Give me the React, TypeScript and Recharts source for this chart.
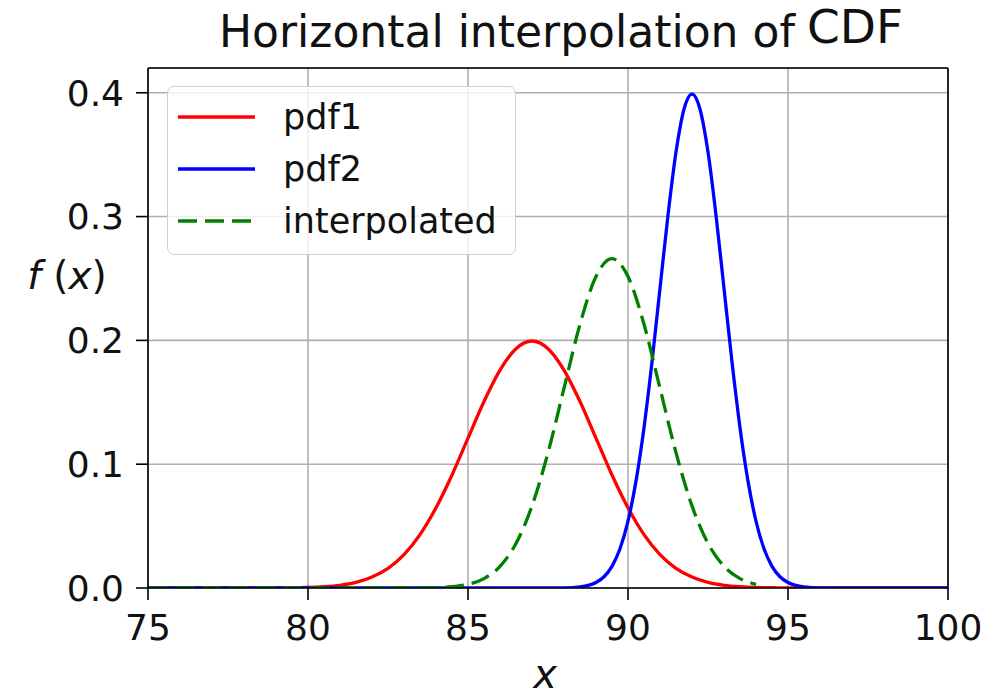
import React from "react";
import {
  ComposedChart,
  Line,
  XAxis,
  YAxis,
  CartesianGrid,
  ReferenceLine,
  Legend,
} from "recharts";

// values
const pdf1X = [75, 78, 79, 79.5, 80, 80.5, 81, 81.5, 82, 82.5, 83, 83.5, 84, 84.5, 85, 85.5, 86, 86.5, 87, 87.5, 88, 88.5, 89, 89.5, 90, 90.5, 91, 91.5, 92, 92.5, 93, 93.5, 94, 94.5, 95, 96, 100];
const pdf1Y = [0, 0, 0.0001, 0.0002, 0.0004, 0.001, 0.0022, 0.0045, 0.0088, 0.0159, 0.027, 0.0431, 0.0648, 0.0913, 0.121, 0.1506, 0.176, 0.1933, 0.1995, 0.1933, 0.176, 0.1506, 0.121, 0.0913, 0.0648, 0.0431, 0.027, 0.0159, 0.0088, 0.0045, 0.0022, 0.001, 0.0004, 0.0002, 0.0001, 0, 0];

const pdf2X = [75, 87, 88, 88.5, 89, 89.25, 89.5, 89.75, 90, 90.25, 90.5, 90.75, 91, 91.25, 91.5, 91.75, 92, 92.25, 92.5, 92.75, 93, 93.25, 93.5, 93.75, 94, 94.25, 94.5, 94.75, 95, 95.5, 96, 97, 100];
const pdf2Y = [0, 0, 0.0001, 0.0009, 0.0044, 0.0091, 0.0175, 0.0317, 0.054, 0.0863, 0.1295, 0.1826, 0.242, 0.3011, 0.3521, 0.3867, 0.3989, 0.3867, 0.3521, 0.3011, 0.242, 0.1826, 0.1295, 0.0863, 0.054, 0.0317, 0.0175, 0.0091, 0.0044, 0.0009, 0.0001, 0, 0];

const interpX = [75, 82, 83, 83.5, 84, 84.5, 85, 85.5, 86, 86.5, 87, 87.5, 88, 88.5, 89, 89.5, 90, 90.5, 91, 91.5, 92, 92.5, 93, 93.5, 94];
const interpY = [0, 0, 0, 0.0001, 0.0003, 0.001, 0.003, 0.0076, 0.0175, 0.036, 0.0663, 0.1093, 0.1613, 0.213, 0.2516, 0.266, 0.2516, 0.213, 0.1613, 0.1093, 0.0663, 0.036, 0.0175, 0.0076, 0.003];

const xTicks = [75, 80, 85, 90, 95, 100];
const yTicks = [0, 0.1, 0.2, 0.3, 0.4];
const xDomain = [75, 100];
const yDomain = [0, 0.42];

const seriesNames = ["pdf1", "pdf2", "interpolated"];
const seriesColors = ["#ff0000", "#0000ff", "#008000"];
const seriesDash = ["", "", "19 8"];

const toPoints = (xs: number[], ys: number[]) => xs.map((x, i) => ({ x, y: ys[i] }));

const FONT = "'DejaVu Sans', sans-serif";
const INK = "#111";

function LegendBox() {
  return (
    <div
      style={{
        width: 349,
        height: 169,
        border: "1.5px solid #d0d0d0",
        borderRadius: 7,
        background: "rgba(255,255,255,0.8)",
        fontFamily: FONT,
        fontSize: 35,
        color: INK,
        boxSizing: "border-box",
      }}
    >
      {seriesNames.map((name, i) => (
        <div key={name} style={{ display: "flex", alignItems: "center", height: 52, marginTop: i === 0 ? 4 : 0 }}>
          <svg width={105} height={20} style={{ marginLeft: 10 }}>
            <line
              x1={0}
              x2={77}
              y1={10}
              y2={10}
              stroke={seriesColors[i]}
              strokeWidth={3.3}
              strokeDasharray={seriesDash[i] || undefined}
            />
          </svg>
          <span>{name}</span>
        </div>
      ))}
    </div>
  );
}

function XLabel(props: any) {
  const { viewBox } = props;
  const cx = viewBox.x + viewBox.width / 2;
  return (
    <text x={cx - 3} y={688} textAnchor="middle" fontFamily={FONT} fontStyle="italic" fontSize={40} fill={INK}>
      x
    </text>
  );
}

function YLabel() {
  return (
    <text x={67} y={289} textAnchor="middle" fontFamily={FONT} fontSize={39} fill={INK}>
      <tspan fontStyle="italic">f</tspan>
      <tspan> (</tspan>
      <tspan fontStyle="italic">x</tspan>
      <tspan>)</tspan>
    </text>
  );
}

export default function App() {
  return (
    <div style={{ position: "absolute", left: 0, top: 0, width: 997, height: 697, background: "#fff" }}>
      <ComposedChart
        width={997}
        height={697}
        margin={{ top: 68, right: 49, bottom: 0, left: 0 }}
        style={{ position: "absolute", left: 0, top: 0 }}
      >
        <CartesianGrid stroke="#b0b0b0" strokeWidth={1.6} />
        <XAxis
          dataKey="x"
          type="number"
          domain={xDomain}
          ticks={xTicks}
          allowDataOverflow
          height={109}
          tickSize={12}
          tickMargin={14}
          axisLine={{ stroke: "#000", strokeWidth: 1.6 }}
          tickLine={{ stroke: "#000", strokeWidth: 1.6 }}
          tick={{ fontFamily: FONT, fontSize: 36, fill: INK }}
          label={<XLabel />}
        />
        <YAxis
          type="number"
          domain={yDomain}
          ticks={yTicks}
          allowDataOverflow
          width={148}
          tickSize={12}
          tickMargin={12}
          axisLine={{ stroke: "#000", strokeWidth: 1.6 }}
          tickLine={{ stroke: "#000", strokeWidth: 1.6 }}
          tick={{ fontFamily: FONT, fontSize: 36, fill: INK }}
          tickFormatter={(v: number) => v.toFixed(1)}
          label={<YLabel />}
        />
        <ReferenceLine y={yDomain[1]} stroke="#000" strokeWidth={1.6} />
        <ReferenceLine x={xDomain[1]} stroke="#000" strokeWidth={1.6} />
        <Line
          data={toPoints(pdf1X, pdf1Y)}
          dataKey="y"
          name={seriesNames[0]}
          type="monotone"
          stroke={seriesColors[0]}
          strokeWidth={3.3}
          dot={false}
          isAnimationActive={false}
        />
        <Line
          data={toPoints(pdf2X, pdf2Y)}
          dataKey="y"
          name={seriesNames[1]}
          type="monotone"
          stroke={seriesColors[1]}
          strokeWidth={3.3}
          dot={false}
          isAnimationActive={false}
        />
        <Line
          data={toPoints(interpX, interpY)}
          dataKey="y"
          name={seriesNames[2]}
          type="monotone"
          stroke={seriesColors[2]}
          strokeWidth={3.3}
          strokeDasharray={seriesDash[2]}
          dot={false}
          isAnimationActive={false}
        />
        <Legend
          layout="vertical"
          align="center"
          verticalAlign="middle"
          content={() => <LegendBox />}
          wrapperStyle={{ position: "absolute", left: 167, top: 86, width: "auto", height: "auto" }}
        />
      </ComposedChart>
      <svg width={997} height={68} style={{ position: "absolute", left: 0, top: 0 }}>
        <text x={219} y={47} fontFamily={FONT} fontSize={44} fill={INK}>
          Horizontal interpolation of
          <tspan dx={12} dy={-4} fontSize={47}>CDF</tspan>
        </text>
      </svg>
    </div>
  );
}
